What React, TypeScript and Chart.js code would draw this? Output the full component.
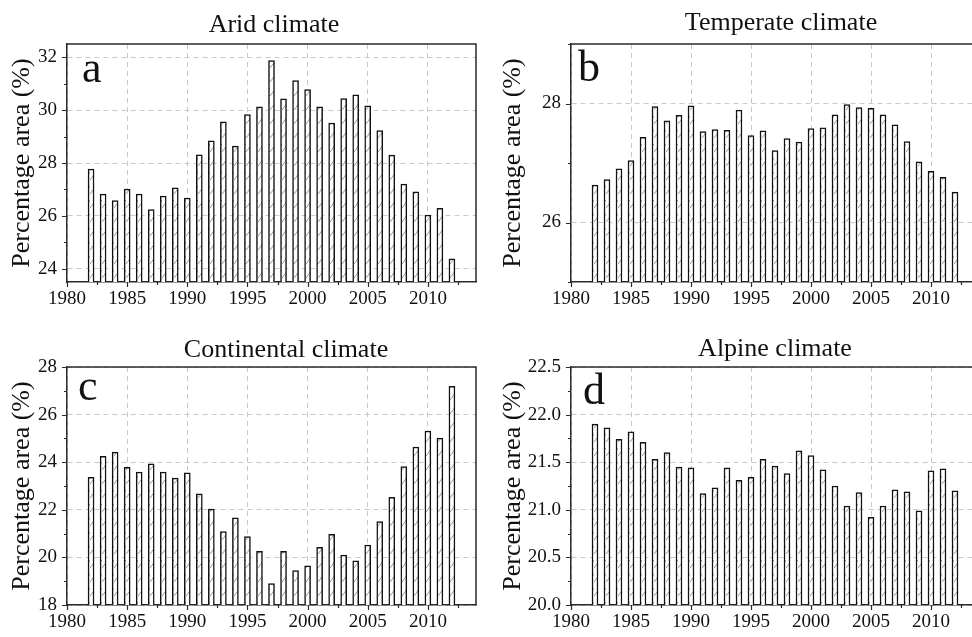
import React, { useEffect, useRef } from "react";
import { Chart, registerables } from "chart.js";

Chart.register(...registerables);

const FONT = "'Liberation Serif', 'Times New Roman', Times, serif";
const AXIS_COLOR = "#2a2a2a";
const GRID_COLOR = "#c9c9c9";

// ---- data -------------------------------------------------------------
const years = [
  1982, 1983, 1984, 1985, 1986, 1987, 1988, 1989, 1990, 1991, 1992, 1993, 1994, 1995, 1996, 1997,
  1998, 1999, 2000, 2001, 2002, 2003, 2004, 2005, 2006, 2007, 2008, 2009, 2010, 2011, 2012,
];

const aridValues = [
  27.77, 26.82, 26.58, 27.01, 26.82, 26.24, 26.75, 27.06, 26.67, 28.31, 28.84, 29.56, 28.64, 29.83,
  30.12, 31.87, 30.43, 31.12, 30.78, 30.12, 29.51, 30.44, 30.58, 30.16, 29.23, 28.3, 27.2, 26.91,
  26.03, 26.29, 24.38,
];

const temperateValues = [
  26.63, 26.72, 26.9, 27.04, 27.43, 27.95, 27.71, 27.8, 27.96, 27.53, 27.56, 27.55, 27.89, 27.46,
  27.54, 27.21, 27.41, 27.35, 27.58, 27.59, 27.81, 27.98, 27.93, 27.92, 27.81, 27.64, 27.36, 27.02,
  26.86, 26.76, 26.51,
];

const continentalValues = [
  23.36, 24.25, 24.42, 23.78, 23.59, 23.93, 23.59, 23.33, 23.55, 22.67, 22.03, 21.09, 21.66, 20.87,
  20.25, 18.9, 20.25, 19.45, 19.65, 20.42, 20.97, 20.1, 19.86, 20.52, 21.51, 22.52, 23.82, 24.64,
  25.31, 25.01, 27.19,
];

const alpineValues = [
  21.9, 21.86, 21.74, 21.82, 21.71, 21.53, 21.6, 21.45, 21.44, 21.17, 21.23, 21.44, 21.31, 21.34,
  21.53, 21.46, 21.38, 21.62, 21.57, 21.42, 21.25, 21.04, 21.18, 20.92, 21.04, 21.21, 21.19, 20.99,
  21.41, 21.43, 21.2,
];

const xTickLabels = ["1980", "1985", "1990", "1995", "2000", "2005", "2010"];
const aridYTickLabels = ["24", "26", "28", "30", "32"];
const temperateYTickLabels = ["26", "28"];
const continentalYTickLabels = ["18", "20", "22", "24", "26", "28"];
const alpineYTickLabels = ["20.0", "20.5", "21.0", "21.5", "22.0", "22.5"];

const yAxisTitle = "Percentage area (%)";

// ---- layout -----------------------------------------------------------
type PanelCfg = {
  title: string;
  letter: string;
  values: number[];
  yLabels: string[];
  yMin: number;
  yMax: number;
  yMinorStep: number;
  decimals: number;
  left: number;
  top: number;
  w: number;
  h: number;
  padTop: number;
  padRight: number;
  yAxisW: number;
  xAxisH: number;
  yTitlePad: number;
  titleX: number;
  titleY: number;
  letterX: number;
  letterY: number;
};

const panels: PanelCfg[] = [
  {
    title: "Arid climate", letter: "a", values: aridValues, yLabels: aridYTickLabels,
    yMin: 23.5, yMax: 32.5, yMinorStep: 1, decimals: 0,
    left: 0, top: 0, w: 486, h: 318, padTop: 44, padRight: 10, yAxisW: 67, xAxisH: 36,
    yTitlePad: 7, titleX: 274, titleY: 32, letterX: 82, letterY: 82,
  },
  {
    title: "Temperate climate", letter: "b", values: temperateValues, yLabels: temperateYTickLabels,
    yMin: 25, yMax: 29, yMinorStep: 1, decimals: 0,
    left: 486, top: 0, w: 500, h: 318, padTop: 44, padRight: 7, yAxisW: 85, xAxisH: 36,
    yTitlePad: 12, titleX: 781, titleY: 30, letterX: 578, letterY: 81,
  },
  {
    title: "Continental climate", letter: "c", values: continentalValues, yLabels: continentalYTickLabels,
    yMin: 18, yMax: 28, yMinorStep: 1, decimals: 0,
    left: 0, top: 318, w: 486, h: 319, padTop: 49, padRight: 10, yAxisW: 67, xAxisH: 32,
    yTitlePad: 7, titleX: 286, titleY: 357, letterX: 78, letterY: 400,
  },
  {
    title: "Alpine climate", letter: "d", values: alpineValues, yLabels: alpineYTickLabels,
    yMin: 20, yMax: 22.5, yMinorStep: 0.25, decimals: 1,
    left: 486, top: 318, w: 500, h: 319, padTop: 49, padRight: 7, yAxisW: 85, xAxisH: 32,
    yTitlePad: 12, titleX: 775, titleY: 356, letterX: 583, letterY: 404,
  },
];

const X_MIN = 1980;
const X_MAX = 2014;
const X_MINOR_STEP = 2.5;

function stepTicks(min: number, max: number, step: number): number[] {
  const out: number[] = [];
  const start = Math.ceil(min / step - 1e-9) * step;
  for (let v = start; v <= max + 1e-9; v += step) out.push(Math.round(v * 1000) / 1000);
  return out;
}

function makeHatch(): CanvasPattern | string {
  const c = document.createElement("canvas");
  c.width = 6;
  c.height = 14;
  const g = c.getContext("2d");
  if (!g) return "#fff";
  g.fillStyle = "#ffffff";
  g.fillRect(0, 0, 6, 14);
  g.strokeStyle = "#8a8a8a";
  g.lineWidth = 0.9;
  g.beginPath();
  g.moveTo(0, 12);
  g.lineTo(6, 4);
  g.stroke();
  const p = g.createPattern(c, "repeat");
  return p || "#fff";
}

function Panel({ cfg }: { cfg: PanelCfg }) {
  const ref = useRef<HTMLCanvasElement>(null);

  useEffect(() => {
    if (!ref.current) return;
    const xMajor = xTickLabels.map(Number);
    const yMajor = cfg.yLabels.map(Number);
    const isMajor = (list: number[], v: number) => list.some((m) => Math.abs(m - v) < 1e-6);
    const xTicks = stepTicks(X_MIN, X_MAX, X_MINOR_STEP);
    const yTicks = stepTicks(cfg.yMin, cfg.yMax, cfg.yMinorStep);

    const decor = {
      id: "decor",
      afterDraw(chart: any) {
        const { ctx, chartArea: a } = chart;
        const xs = chart.scales.x;
        const ys = chart.scales.y;
        ctx.save();
        // frame (top + right)
        ctx.strokeStyle = AXIS_COLOR;
        ctx.lineWidth = 1.5;
        ctx.beginPath();
        ctx.moveTo(a.left, a.top);
        ctx.lineTo(a.right, a.top);
        ctx.lineTo(a.right, a.bottom);
        ctx.stroke();
        // tick marks
        ctx.lineWidth = 1.2;
        ctx.beginPath();
        xs.ticks.forEach((t: any) => {
          const px = Math.round(xs.getPixelForValue(t.value)) + 0.5;
          const len = isMajor(xMajor, t.value) ? 5 : 3;
          ctx.moveTo(px, a.bottom);
          ctx.lineTo(px, a.bottom + len);
        });
        ys.ticks.forEach((t: any) => {
          const py = Math.round(ys.getPixelForValue(t.value)) + 0.5;
          const len = isMajor(yMajor, t.value) ? 5 : 3;
          ctx.moveTo(a.left, py);
          ctx.lineTo(a.left - len, py);
        });
        ctx.stroke();
        // title
        ctx.fillStyle = "#111";
        ctx.font = `26px ${FONT}`;
        ctx.textAlign = "center";
        ctx.textBaseline = "alphabetic";
        ctx.fillText(cfg.title, cfg.titleX - cfg.left, cfg.titleY - cfg.top);
        // panel letter
        ctx.font = `44px ${FONT}`;
        ctx.textAlign = "left";
        ctx.fillText(cfg.letter, cfg.letterX - cfg.left, cfg.letterY - cfg.top);
        ctx.restore();
      },
    };

    const chart = new Chart(ref.current, {
      type: "bar",
      data: {
        datasets: [
          {
            data: years.map((y, i) => ({ x: y, y: cfg.values[i] })),
            backgroundColor: makeHatch() as any,
            borderColor: "#111",
            borderWidth: 1.5,
            barThickness: 6,
          },
        ],
      },
      options: {
        animation: false,
        responsive: false,
        maintainAspectRatio: false,
        devicePixelRatio: 1,
        layout: { padding: { top: cfg.padTop, right: cfg.padRight, left: 0, bottom: 0 } },
        plugins: {
          legend: { display: false },
          tooltip: { enabled: false },
          title: { display: false },
        },
        scales: {
          x: {
            type: "linear",
            min: X_MIN,
            max: X_MAX,
            offset: false,
            afterBuildTicks: (s: any) => {
              s.ticks = xTicks.map((v) => ({ value: v }));
            },
            afterFit: (s: any) => {
              s.height = cfg.xAxisH;
            },
            ticks: {
              autoSkip: false,
              maxRotation: 0,
              padding: 6,
              color: "#111",
              font: { family: FONT, size: 19 },
              callback: (v: any) => (isMajor(xMajor, Number(v)) ? String(Math.round(Number(v))) : ""),
            },
            grid: {
              offset: false,
              drawTicks: false,
              lineWidth: 1,
              color: (c: any) => (c.tick && isMajor(xMajor, c.tick.value) ? GRID_COLOR : "rgba(0,0,0,0)"),
            },
            border: { display: true, color: AXIS_COLOR, width: 1.5, dash: [5, 4] },
          },
          y: {
            type: "linear",
            min: cfg.yMin,
            max: cfg.yMax,
            afterBuildTicks: (s: any) => {
              s.ticks = yTicks.map((v) => ({ value: v }));
            },
            afterFit: (s: any) => {
              s.width = cfg.yAxisW;
            },
            ticks: {
              autoSkip: false,
              padding: 10,
              color: "#111",
              font: { family: FONT, size: 19 },
              callback: (v: any) => (isMajor(yMajor, Number(v)) ? Number(v).toFixed(cfg.decimals) : ""),
            },
            grid: {
              drawTicks: false,
              lineWidth: 1,
              color: (c: any) => (c.tick && isMajor(yMajor, c.tick.value) ? GRID_COLOR : "rgba(0,0,0,0)"),
            },
            border: { display: true, color: AXIS_COLOR, width: 1.5, dash: [5, 4] },
            title: {
              display: true,
              text: yAxisTitle,
              color: "#111",
              font: { family: FONT, size: 26 },
              padding: { top: cfg.yTitlePad, bottom: 0 },
            },
          },
        },
      },
      plugins: [decor],
    } as any);

    return () => chart.destroy();
  }, [cfg]);

  return (
    <canvas
      ref={ref}
      width={cfg.w}
      height={cfg.h}
      style={{ position: "absolute", left: cfg.left, top: cfg.top, width: cfg.w, height: cfg.h }}
    />
  );
}

export default function App() {
  return (
    <div
      style={{
        position: "fixed",
        left: 0,
        top: 0,
        width: 972,
        height: 637,
        overflow: "hidden",
        background: "#ffffff",
      }}
    >
      {panels.map((p) => (
        <Panel key={p.letter} cfg={p} />
      ))}
    </div>
  );
}
